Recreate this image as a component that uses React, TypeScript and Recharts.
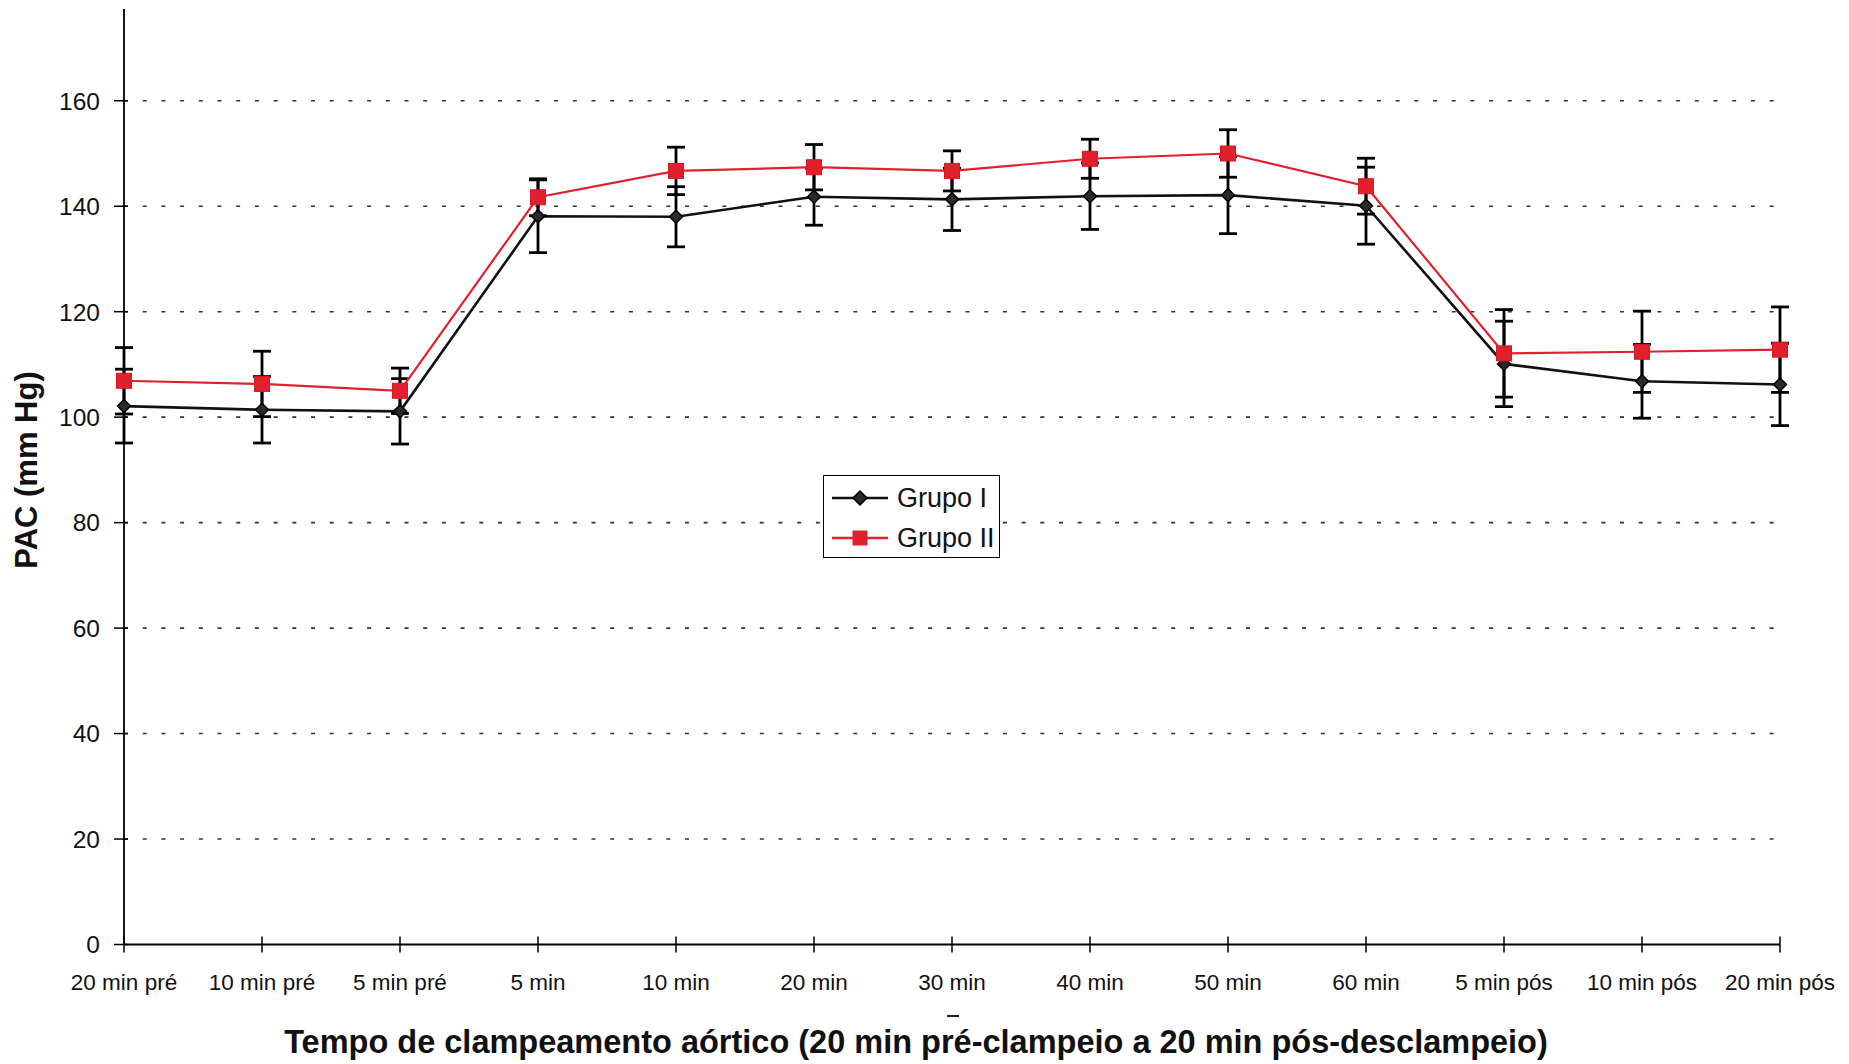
import React from "react";
import {
  LineChart,
  Line,
  XAxis,
  YAxis,
  CartesianGrid,
  ErrorBar,
  Legend,
  Label,
} from "recharts";

const categories = [
  "20 min pré",
  "10 min pré",
  "5 min pré",
  "5 min",
  "10 min",
  "20 min",
  "30 min",
  "40 min",
  "50 min",
  "60 min",
  "5 min pós",
  "10 min pós",
  "20 min pós",
];

const grupoI = [102.1, 101.4, 101.1, 138.1, 138.0, 141.8, 141.3, 141.9, 142.1, 140.1, 110.1, 106.8, 106.2];
const grupoISd = [7.0, 6.3, 6.2, 6.9, 5.7, 5.4, 5.9, 6.3, 7.3, 7.3, 8.1, 7.0, 7.8];
const grupoII = [106.9, 106.3, 105.0, 141.7, 146.7, 147.4, 146.7, 149.0, 150.0, 143.8, 112.1, 112.4, 112.8];
const grupoIISd = [6.3, 6.2, 4.3, 3.5, 4.5, 4.3, 3.8, 3.7, 4.5, 5.3, 8.3, 7.7, 8.1];

const yTicks = [0, 20, 40, 60, 80, 100, 120, 140, 160];

const data = categories.map((name, i) => ({
  name,
  g1: grupoI[i],
  g1sd: grupoISd[i],
  g2: grupoII[i],
  g2sd: grupoIISd[i],
}));

const FONT = "'Liberation Sans', Arial, Helvetica, sans-serif";
const RED = "#e1202d";
const BLACK = "#111";

const Y_TICK = 10;
const Y_MARGIN = 14;
const X_TICK = 8;
const X_MARGIN = 10;

function YTick(props: any) {
  const { x, y, payload } = props;
  const ax = x + Y_TICK + Y_MARGIN;
  return (
    <g>
      <line x1={ax - 10} x2={ax + 4} y1={y} y2={y} stroke="#000" strokeWidth={1.5} />
      <text x={x} y={y} dy="0.36em" textAnchor="end" fontFamily={FONT} fontSize={24.5} fill="#111">
        {payload.value}
      </text>
    </g>
  );
}

function XTick(props: any) {
  const { x, y, payload } = props;
  const ay = y - X_TICK - X_MARGIN;
  return (
    <g>
      <line x1={x} x2={x} y1={ay - 8} y2={ay + 8} stroke="#000" strokeWidth={1.5} />
      <text x={x} y={ay + 45} textAnchor="middle" fontFamily={FONT} fontSize={22.5} fill="#111">
        {payload.value}
      </text>
    </g>
  );
}

function Diamond(props: any) {
  const { cx, cy, index } = props;
  const r = 6.5;
  return (
    <path
      key={`d${index}`}
      d={`M${cx},${cy - r}L${cx + r},${cy}L${cx},${cy + r}L${cx - r},${cy}Z`}
      fill="#2a2a2a"
      stroke="#000"
      strokeWidth={1.5}
    />
  );
}

function Square(props: any) {
  const { cx, cy, index } = props;
  const s = 15;
  return (
    <rect
      key={`s${index}`}
      x={cx - s / 2}
      y={cy - s / 2}
      width={s}
      height={s}
      fill={RED}
      stroke="#d41a26"
      strokeWidth={1}
    />
  );
}

function LegendBox() {
  const rows = [
    { label: "Grupo I", color: BLACK, kind: "d" },
    { label: "Grupo II", color: RED, kind: "s" },
  ];
  return (
    <div
      style={{
        border: "1.5px solid #000",
        background: "#fff",
        width: 177,
        height: 83,
        boxSizing: "border-box",
        fontFamily: FONT,
        fontSize: 27,
        color: "#111",
        paddingTop: 2,
      }}
    >
      {rows.map((r) => (
        <div key={r.label} style={{ display: "flex", alignItems: "center", height: 40 }}>
          <svg width={70} height={30} style={{ marginLeft: 2 }}>
            <line x1={6} x2={62} y1={15} y2={15} stroke={r.color} strokeWidth={2.5} />
            {r.kind === "d" ? (
              <path d="M34,8L41,15L34,22L27,15Z" fill="#2a2a2a" stroke="#000" strokeWidth={1.5} />
            ) : (
              <rect x={26.5} y={7.5} width={15} height={15} fill={RED} />
            )}
          </svg>
          <span style={{ marginLeft: 1 }}>{r.label}</span>
        </div>
      ))}
    </div>
  );
}

function YTitle(props: any) {
  const cx = 37;
  const cy = 470;
  return (
    <text
      x={cx}
      y={cy}
      transform={`rotate(-90, ${cx}, ${cy})`}
      textAnchor="middle"
      fontFamily={FONT}
      fontWeight="bold"
      fontSize={31}
      fill="#111"
    >
      PAC (mm Hg)
    </text>
  );
}

function XTitle(props: any) {
  return (
    <g>
      <line x1={947} x2={959} y1={1016} y2={1016} stroke="#222" strokeWidth={2} />
      <text
        x={916}
        y={1053}
        textAnchor="middle"
        fontFamily={FONT}
        fontWeight="bold"
        fontSize={32.5}
        fill="#111"
      >
        Tempo de clampeamento aórtico (20 min pré-clampeio a 20 min pós-desclampeio)
      </text>
    </g>
  );
}

export default function App() {
  return (
    <div style={{ position: "absolute", left: 0, top: 0, width: 1849, height: 1064, background: "#fff" }}>
      <LineChart
        width={1849}
        height={1064}
        data={data}
        margin={{ top: 9, right: 69, bottom: 0, left: 0 }}
      >
        <CartesianGrid
          vertical={false}
          horizontalValues={[20, 40, 60, 80, 100, 120, 140, 160]}
          stroke="#333"
          strokeWidth={1.6}
          strokeDasharray="4 14.7"
        />
        <XAxis
          dataKey="name"
          interval={0}
          height={119.5}
          tickSize={X_TICK}
          tickMargin={X_MARGIN}
          tickLine={false}
          axisLine={{ stroke: "#000", strokeWidth: 1.8 }}
          tick={<XTick />}
        >
          <Label content={<XTitle />} />
        </XAxis>
        <YAxis
          width={124}
          domain={[0, 177.4]}
          ticks={yTicks}
          allowDataOverflow
          tickSize={Y_TICK}
          tickMargin={Y_MARGIN}
          tickLine={false}
          axisLine={{ stroke: "#000", strokeWidth: 1.8 }}
          tick={<YTick />}
        >
          <Label content={<YTitle />} />
        </YAxis>
        <Legend
          layout="horizontal"
          verticalAlign="middle"
          align="center"
          content={<LegendBox />}
          wrapperStyle={{ position: "absolute", left: 823, top: 475, width: 177, height: 83 }}
        />
        <Line
          type="linear"
          dataKey="g1"
          name="Grupo I"
          stroke={BLACK}
          strokeWidth={2.6}
          dot={Diamond}
          activeDot={false}
          isAnimationActive={false}
        >
          <ErrorBar dataKey="g1sd" direction="y" width={9} stroke="#000" strokeWidth={2.8} isAnimationActive={false} />
        </Line>
        <Line
          type="linear"
          dataKey="g2"
          name="Grupo II"
          stroke={RED}
          strokeWidth={2.2}
          dot={Square}
          activeDot={false}
          isAnimationActive={false}
        >
          <ErrorBar dataKey="g2sd" direction="y" width={9} stroke="#000" strokeWidth={2.8} isAnimationActive={false} />
        </Line>
      </LineChart>
    </div>
  );
}
